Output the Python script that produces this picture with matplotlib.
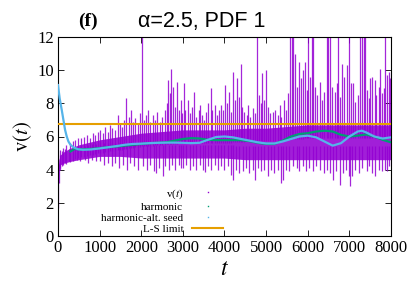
import numpy as np
import matplotlib
matplotlib.use("Agg")
import matplotlib.pyplot as plt
from matplotlib.lines import Line2D

plt.rcParams['mathtext.fontset'] = 'stix'

# ---- data ----
# dense core band of v(t)
t_core = [0, 20, 60, 150, 300, 500, 1000, 1500, 2000, 2500, 3000, 3500,
          4000, 4500, 5000, 5500, 6000, 6500, 7000, 7500, 8000]
core_lo = [2.5, 3.9, 4.3, 4.4, 4.5, 4.6, 4.8, 4.8, 4.7, 4.7, 4.7, 4.7,
           4.7, 4.6, 4.6, 4.6, 4.6, 4.6, 4.6, 4.6, 4.6]
core_hi = [4.0, 4.6, 4.9, 5.1, 5.3, 5.5, 5.8, 6.0, 6.2, 6.3, 6.4, 6.4,
           6.4, 6.5, 6.5, 6.6, 6.7, 6.7, 6.7, 6.7, 6.7]

# upward excursions of v(t): time, top value
up_t = [60, 130, 200, 280, 350, 420, 480, 560, 620, 700, 760, 830, 900, 960,
        1020, 1080, 1130, 1190, 1250, 1300, 1360, 1430, 1480, 1530, 1590, 1640,
        1700, 1750, 1800, 1860, 1920, 1970,
        2018, 2070, 2120, 2154, 2200, 2274, 2330, 2390, 2440, 2500, 2560, 2610,
        2650, 2690, 2722, 2760, 2800, 2850, 2900, 2950, 2980,
        3020, 3060, 3123, 3180, 3230, 3267, 3320, 3380, 3403, 3450, 3510, 3560,
        3610, 3667, 3710, 3763, 3820, 3870, 3920, 3960,
        4003, 4050, 4107, 4150, 4200, 4250, 4307, 4340, 4387, 4430, 4480, 4530,
        4563, 4620, 4683, 4730, 4787, 4830, 4870, 4899, 4950,
        5003, 5050, 5100, 5163, 5220, 5283, 5330, 5363, 5420, 5470, 5520, 5573,
        5610, 5650, 5693, 5740, 5780, 5830, 5893, 5930, 5970,
        6013, 6060, 6100, 6133, 6180, 6230, 6293, 6340, 6390, 6453, 6490, 6533,
        6590, 6653, 6700, 6733, 6780, 6813, 6870, 6933, 6990,
        7040, 7090, 7140, 7200, 7253, 7300, 7340, 7373, 7420, 7460, 7500, 7550,
        7613, 7650, 7700, 7740, 7790, 7830, 7860, 7893, 7940, 7975]
up_v = [5.2, 5.3, 5.5, 5.6, 5.7, 5.8, 5.9, 5.9, 6.0, 6.1, 5.9, 6.2, 6.1, 6.3,
        6.4, 6.2, 6.6, 6.3, 6.7, 6.5, 6.4, 7.3, 6.8, 6.6, 7.0, 8.3,
        7.2, 7.6, 6.9, 7.1, 6.8, 7.4,
        12.5, 7.0, 7.3, 7.6, 6.9, 7.3, 7.0, 7.5, 6.9, 7.2, 7.6, 8.0,
        9.4, 8.6, 10.1, 9.0, 7.8, 9.3, 7.6, 8.2, 7.4,
        9.2, 7.6, 8.2, 7.4, 7.8, 8.7, 7.2, 7.6, 7.9, 7.3, 7.0, 7.5,
        8.0, 8.9, 7.6, 7.9, 7.3, 7.6, 7.9, 7.6,
        9.1, 8.0, 8.7, 7.5, 9.9, 8.2, 9.5, 8.4, 10.4, 7.8, 7.5, 7.3,
        7.9, 7.2, 7.7, 7.4, 12.5, 8.5, 8.0, 9.8, 8.2,
        10.0, 7.8, 7.4, 7.5, 7.6, 7.3, 7.9, 7.2, 8.2, 7.6, 8.6, 12.5,
        12.5, 12.5, 11.0, 9.0, 10.5, 9.5, 10.0, 10.5, 8.8,
        12.5, 9.6, 12.5, 12.5, 9.0, 8.5, 9.3, 8.2, 8.7, 12.5, 12.5, 12.5,
        9.0, 8.7, 9.2, 12.5, 8.4, 10.4, 9.6, 10.3, 12.5,
        9.2, 9.2, 8.1, 8.5, 12.5, 12.5, 12.5, 12.5, 8.8, 8.3, 9.5, 9.6,
        9.4, 8.5, 9.0, 10.1, 8.6, 8.9, 12.5, 9.7, 9.9, 9.5]

# downward excursions of v(t): time, bottom value
dn_t = [0, 15, 40, 100, 180, 260, 350, 450, 540, 640, 730, 820, 910,
        1000, 1100, 1200, 1290, 1380, 1470, 1560, 1650, 1740, 1830, 1920,
        2050, 2130, 2220, 2300, 2354, 2420, 2514, 2580, 2660, 2740, 2820, 2900, 2960,
        3002, 3080, 3160, 3240, 3320, 3400, 3480, 3530, 3600, 3683, 3760, 3840, 3920,
        4000, 4080, 4150, 4203, 4280, 4360, 4450, 4520, 4600, 4680, 4723, 4800, 4870, 4940,
        5043, 5120, 5200, 5280, 5363, 5400, 5480, 5560, 5640, 5733, 5800, 5880, 5950,
        6030, 6133, 6210, 6300, 6380, 6460, 6533, 6610, 6690, 6773, 6850, 6920, 6980,
        7013, 7060, 7140, 7220, 7300, 7413, 7480, 7540, 7613, 7700, 7780, 7850, 7893, 7960]
dn_v = [1.7, 3.2, 4.0, 4.2, 4.4, 4.5, 4.6, 4.6, 4.5, 4.6, 4.4, 4.6, 4.5,
        4.5, 4.3, 4.4, 4.2, 4.4, 4.1, 4.3, 4.0, 4.4, 4.2, 4.0,
        4.2, 4.0, 4.3, 3.9, 3.8, 4.1, 3.6, 4.2, 4.0, 4.3, 4.0, 4.3, 4.1,
        4.1, 4.3, 4.0, 4.2, 4.0, 4.3, 4.0, 3.85, 4.2, 4.0, 4.3, 4.0, 4.2,
        4.0, 4.2, 3.7, 3.35, 4.0, 3.8, 3.9, 4.1, 3.8, 4.0, 3.4, 4.1, 3.9, 4.0,
        3.6, 4.0, 3.8, 4.0, 3.2, 3.4, 4.0, 3.9, 4.2, 4.1, 3.9, 4.2, 3.9,
        4.1, 3.9, 4.2, 4.0, 3.8, 4.0, 3.8, 3.4, 3.9, 3.1, 3.8, 4.0, 3.6,
        3.0, 3.6, 4.0, 3.8, 4.1, 3.9, 4.2, 3.8, 3.6, 4.0, 3.9, 4.0, 3.9, 4.2]

t_harm = [300, 400, 600, 800, 1000, 1200, 1400, 1600, 1800, 2000, 2200, 2400,
          2600, 2800, 3000, 3200, 3400, 3600, 3800, 4000, 4200, 4400, 4600,
          4800, 5000, 5200, 5400, 5600, 5800, 6000, 6200, 6400, 6600, 6800,
          7000, 7200, 7400, 7600, 7800, 8000]
harm = [5.1, 5.25, 5.22, 5.25, 5.3, 5.35, 5.4, 5.45, 5.5, 5.55, 5.6, 5.62,
        5.65, 5.75, 5.85, 5.9, 5.88, 5.8, 5.78, 5.78, 5.78, 5.78, 5.72,
        5.62, 5.55, 5.55, 5.75, 6.0, 6.15, 6.2, 6.3, 6.35, 6.3, 6.1,
        6.0, 6.05, 6.12, 6.0, 5.8, 5.65]

t_alt = [0, 40, 90, 130, 170, 210, 250, 300, 370, 480, 600, 800, 1000, 1200,
         1400, 1600, 1800, 2000, 2200, 2400, 2600, 2800, 3000, 3200, 3400,
         3600, 3800, 4000, 4200, 4400, 4600, 4800, 5000, 5200, 5400, 5600,
         5800, 6000, 6200, 6400, 6600, 6800, 7000, 7200, 7300, 7400, 7600,
         7800, 8000]
harm_alt = [9.1, 8.3, 7.6, 7.0, 6.4, 6.0, 5.7, 5.5, 5.35, 5.23, 5.2, 5.22,
            5.28, 5.35, 5.42, 5.5, 5.55, 5.57, 5.6, 5.62, 5.63, 5.63, 5.62,
            5.6, 5.62, 5.8, 5.97, 6.0, 5.95, 5.85, 5.75, 5.65, 5.58, 5.58,
            5.7, 5.85, 6.0, 6.05, 5.95, 5.7, 5.45, 5.6, 6.0, 6.3, 6.35,
            6.25, 6.0, 5.88, 5.95]

ls_limit = 6.75

x_ticks = [0, 1000, 2000, 3000, 4000, 5000, 6000, 7000, 8000]
y_ticks = [0, 2, 4, 6, 8, 10, 12]

c_v = '#9400d3'
c_h = '#009e73'
c_a = '#56b4e9'
c_ls = '#e69f00'

fig = plt.figure(figsize=(4.12, 2.89), dpi=100)
ax = fig.add_axes([58 / 412, 1 - 236 / 289, 333 / 412, 199 / 289])

ax.fill_between(t_core, core_lo, core_hi, color=c_v, alpha=0.88, lw=0, zorder=2)
up_base = np.interp(up_t, t_core, core_hi)
dn_base = np.interp(dn_t, t_core, core_lo)
ax.vlines(up_t, up_base - 0.8, up_v, color=c_v, lw=0.9, alpha=0.85, zorder=2)
ax.vlines(dn_t, dn_v, dn_base + 0.8, color=c_v, lw=0.9, alpha=0.85, zorder=2)

ax.axhline(ls_limit, color=c_ls, lw=1.5, zorder=3)
ax.plot(t_harm, harm, color=c_h, lw=1.6, zorder=4)
ax.plot(t_alt, harm_alt, color=c_a, lw=1.6, zorder=5)

ax.set_xlim(0, 8000)
ax.set_ylim(0, 12)
ax.set_xticks(x_ticks)
ax.set_yticks(y_ticks)
ax.tick_params(direction='in', top=True, right=True, length=4, width=0.6,
               labelsize=12, pad=3)
for lab in ax.get_xticklabels() + ax.get_yticklabels():
    lab.set_fontfamily('Liberation Serif')
for s in ax.spines.values():
    s.set_linewidth(0.8)

ax.set_xlabel(r'$t$', fontsize=17, labelpad=0)
ax.set_ylabel(r'$\mathrm{v}(t)$', fontsize=15, labelpad=2)

fig.text(88 / 412, 1 - 21 / 289, '(f)', fontfamily='Liberation Serif',
         fontweight='bold', fontsize=14, ha='center', va='center')
fig.text(138 / 412, 1 - 22 / 289, 'α=2.5, PDF 1', fontfamily='Liberation Sans',
         fontsize=15.5, ha='left', va='center')

handles = [
    Line2D([], [], ls='none', marker='s', ms=1.0, mew=0, color=c_v),
    Line2D([], [], ls='none', marker='s', ms=1.0, mew=0, color=c_h),
    Line2D([], [], ls='none', marker='s', ms=1.0, mew=0, color=c_a),
    Line2D([], [], color=c_ls, lw=1.5),
]
labels = [r'v($\it{t}$)', 'harmonic', 'harmonic-alt. seed', 'L-S limit']
leg = ax.legend(handles, labels, loc='lower right', bbox_to_anchor=(0.5, 0.005),
                frameon=False, markerfirst=False, handlelength=2.8,
                handletextpad=0.8, labelspacing=0.12, borderpad=0.1,
                borderaxespad=0, prop={'family': 'Liberation Serif', 'size': 8})
for col in leg._legend_handle_box.get_children():
    col.align = 'right'

fig.savefig('out.png', dpi=100)
